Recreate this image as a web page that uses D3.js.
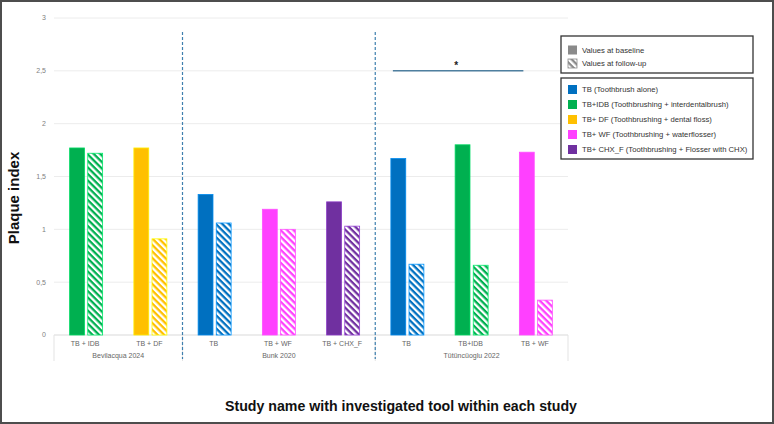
<!DOCTYPE html>
<html><head><meta charset="utf-8">
<script src="https://cdn.jsdelivr.net/npm/d3@7"></script>
<style>html,body{margin:0;padding:0;background:#fff;}svg{display:block;font-family:"Liberation Sans",Arial,sans-serif;}</style>
</head><body>
<svg id="c" width="774" height="424"></svg>
<script>
// ---- data ----
const studies = ["Bevilacqua 2024", "Bunk 2020", "Tütüncüoglu 2022"];
const categories = ["TB + IDB", "TB + DF", "TB", "TB + WF", "TB + CHX_F", "TB", "TB+IDB", "TB + WF"];
const categoryStudy = [0, 0, 1, 1, 1, 2, 2, 2];
const categoryTool = ["TB+IDB", "TB+DF", "TB", "TB+WF", "TB+CHX_F", "TB", "TB+IDB", "TB+WF"];
const baseline = [1.77, 1.77, 1.33, 1.19, 1.26, 1.67, 1.80, 1.73];
const followup = [1.72, 0.91, 1.06, 1.00, 1.03, 0.67, 0.66, 0.33];
const series = ["Values at baseline", "Values at follow-up"];
const tools = ["TB", "TB+IDB", "TB+DF", "TB+WF", "TB+CHX_F"];
const toolLabels = ["TB (Toothbrush alone)", "TB+IDB (Toothbrushing + interdentalbrush)", "TB+ DF (Toothbrushing + dental floss)", "TB+ WF (Toothbrushing + waterflosser)", "TB+ CHX_F (Toothbrushing + Flosser with CHX)"];
const toolColors = ["#0070C0", "#00B050", "#FFC000", "#FF40FF", "#7030A0"];
const yTicks = [0, 0.5, 1, 1.5, 2, 2.5, 3];
const yTickLabels = ["0", "0,5", "1", "1,5", "2", "2,5", "3"];
const significance = {from: 5, to: 7, value: 2.5, label: "*"};

// ---- chart ----
(function () {
const svg = d3.select("#c");
const W = 774, H = 424;
const pL = 54, pR = 568, pT = 18, pB = 335;
const color = d3.scaleOrdinal().domain(tools).range(toolColors);
const x0 = d3.scaleBand().domain(d3.range(categories.length)).range([pL, pR]);
const x1 = d3.scaleBand().domain(series).range([0, 33]).paddingInner(0.18);
const y = d3.scaleLinear().domain([0, 3]).range([pB, pT]);
const off = (x0.bandwidth() - 33) / 2;

const defs = svg.append("defs");
function hatch(id, c) {
  const p = defs.append("pattern").attr("id", id).attr("patternUnits", "userSpaceOnUse")
    .attr("width", 4.6).attr("height", 4.6).attr("patternTransform", "rotate(45)");
  p.append("rect").attr("width", 4.6).attr("height", 4.6).attr("fill", "#fff");
  p.append("rect").attr("width", 4.6).attr("height", 2.3).attr("fill", c);
}
tools.forEach((t, i) => hatch("h" + i, toolColors[i]));
hatch("hg", "#8a8a8a");

// outer border
svg.append("rect").attr("x", 1).attr("y", 1).attr("width", W - 2).attr("height", H - 2)
  .attr("fill", "#fff").attr("stroke", "#4d4d4d").attr("stroke-width", 2);

// gridlines + y labels
const yAxis = svg.append("g");
yTicks.forEach((t, i) => {
  yAxis.append("line").attr("x1", pL).attr("x2", pR).attr("y1", y(t)).attr("y2", y(t))
    .attr("stroke", i === 0 ? "#d9d9d9" : "#ececec").attr("stroke-width", 1);
  yAxis.append("text").attr("x", 46).attr("y", y(t)).attr("dy", "0.35em").attr("text-anchor", "end")
    .attr("font-size", 7).attr("fill", "#808080").text(yTickLabels[i]);
});

// category axis separators
const groupEdges = [0];
studies.forEach((s, si) => {
  const idx = categoryStudy.map((g, i) => g === si ? i : -1).filter(i => i >= 0);
  groupEdges.push(idx[idx.length - 1] + 1);
});
groupEdges.forEach(e => {
  const xx = e < categories.length ? x0(e) : pR;
  svg.append("line").attr("x1", xx).attr("x2", xx).attr("y1", pB).attr("y2", 361)
    .attr("stroke", "#e3e3e3").attr("stroke-width", 1);
});
categories.forEach((c, i) => {
  svg.append("text").attr("x", x0(i) + x0.bandwidth() / 2 - 1).attr("y", 346).attr("text-anchor", "middle")
    .attr("font-size", 7).attr("fill", "#666").text(c);
});
studies.forEach((s, si) => {
  const a = x0(groupEdges[si]);
  const b = groupEdges[si + 1] < categories.length ? x0(groupEdges[si + 1]) : pR;
  svg.append("text").attr("x", (a + b) / 2).attr("y", 358).attr("text-anchor", "middle")
    .attr("font-size", 7).attr("fill", "#666").text(s);
});

// dashed study dividers
groupEdges.slice(1, -1).forEach(e => {
  svg.append("line").attr("x1", x0(e)).attr("x2", x0(e)).attr("y1", 32).attr("y2", 359)
    .attr("stroke", "#3f7fae").attr("stroke-width", 1.2).attr("stroke-dasharray", "3,2");
});

// bars
const bars = svg.append("g");
categories.forEach((c, i) => {
  const ti = tools.indexOf(categoryTool[i]);
  const col = color(categoryTool[i]);
  const bx = x0(i) + off;
  bars.append("rect").attr("x", bx + x1(series[0])).attr("width", x1.bandwidth())
    .attr("y", y(baseline[i])).attr("height", y(0) - y(baseline[i]))
    .attr("fill", col).attr("stroke", d3.color(col).brighter(0.6)).attr("stroke-width", 0.8);
  bars.append("rect").attr("x", bx + x1(series[1])).attr("width", x1.bandwidth())
    .attr("y", y(followup[i])).attr("height", y(0) - y(followup[i]))
    .attr("fill", "url(#h" + ti + ")").attr("stroke", d3.color(col).brighter(0.8)).attr("stroke-width", 0.8);
});

// significance
const sx1 = x0(significance.from) + off + 2, sx2 = x0(significance.to) + off + 4;
svg.append("line").attr("x1", sx1).attr("x2", sx2).attr("y1", y(significance.value)).attr("y2", y(significance.value))
  .attr("stroke", "#4f7f9f").attr("stroke-width", 1.5);
svg.append("text").attr("x", (sx1 + sx2) / 2 - 2).attr("y", y(significance.value) - 2).attr("text-anchor", "middle")
  .attr("font-size", 10).attr("font-weight", "bold").attr("fill", "#222").text(significance.label);

// legends
const lg1 = svg.append("g");
lg1.append("rect").attr("x", 561).attr("y", 36).attr("width", 192).attr("height", 37)
  .attr("fill", "#fff").attr("stroke", "#333").attr("stroke-width", 1.3);
series.forEach((s, i) => {
  const yy = 50 + i * 13.5;
  lg1.append("rect").attr("x", 568).attr("y", yy - 4.5).attr("width", 9).attr("height", 9)
    .attr("fill", i === 0 ? "#8a8a8a" : "url(#hg)").attr("stroke", i === 0 ? "none" : "#8a8a8a").attr("stroke-width", 0.8);
  lg1.append("text").attr("x", 582).attr("y", yy).attr("dy", "0.35em").attr("font-size", 7.7).attr("fill", "#333").text(s);
});
const lg2 = svg.append("g");
lg2.append("rect").attr("x", 561).attr("y", 78).attr("width", 192).attr("height", 81)
  .attr("fill", "#fff").attr("stroke", "#333").attr("stroke-width", 1.3);
tools.forEach((t, i) => {
  const yy = 89.5 + i * 15;
  lg2.append("rect").attr("x", 568).attr("y", yy - 4.5).attr("width", 9).attr("height", 9).attr("fill", toolColors[i]);
  lg2.append("text").attr("x", 582).attr("y", yy).attr("dy", "0.35em").attr("font-size", 7.7).attr("fill", "#333").text(toolLabels[i]);
});

// titles
svg.append("text").attr("transform", "translate(19,198) rotate(-90)").attr("text-anchor", "middle")
  .attr("font-size", 15).attr("font-weight", "bold").attr("fill", "#111").text("Plaque index");
svg.append("text").attr("x", 401).attr("y", 411).attr("text-anchor", "middle")
  .attr("font-size", 15.5).attr("font-weight", "bold").attr("fill", "#111")
  .attr("textLength", 352).attr("lengthAdjust", "spacingAndGlyphs")
  .text("Study name with investigated tool within each study");
})();
</script>
</body></html>
